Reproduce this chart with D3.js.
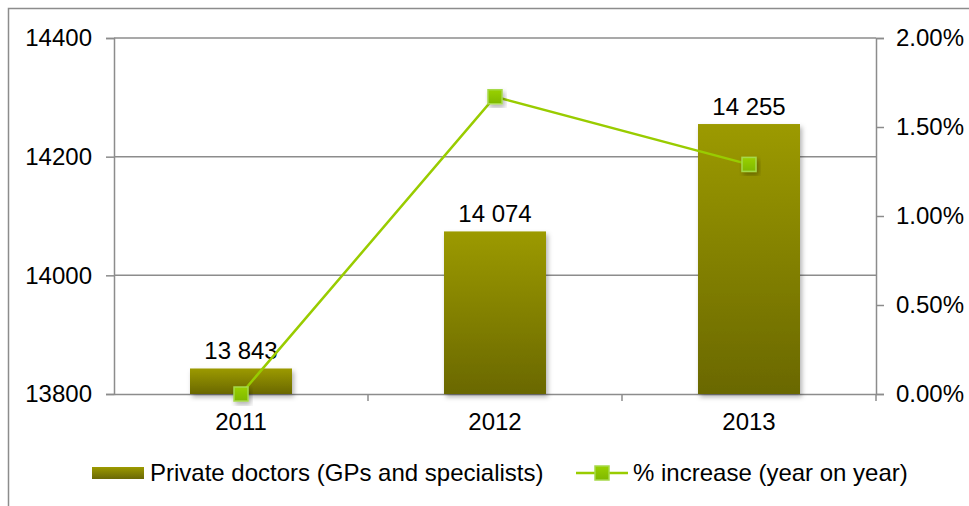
<!DOCTYPE html>
<html>
<head>
<meta charset="utf-8">
<script src="https://cdn.jsdelivr.net/npm/d3@7"></script>
<style>
body { margin: 0; background: #fff; }
text { font-family: "Liberation Sans", Arial, sans-serif; fill: #000; }
</style>
</head>
<body>
<script>
var years = ['2011', '2012', '2013'];
var doctors = [13843, 14074, 14255];
var increase = [0, 1.67, 1.29];
var leftTicks = [13800, 14000, 14200, 14400];
var rightTicks = [0, 0.5, 1, 1.5, 2];

var W = 969, H = 506;
var FS = 24;
var svg = d3.select('body').append('svg')
	.attr('width', W)
	.attr('height', H);

var defs = svg.append('defs');
var grad = defs.append('linearGradient')
	.attr('id', 'barGrad')
	.attr('x1', 0).attr('y1', 0).attr('x2', 0).attr('y2', 1);
grad.append('stop').attr('offset', '0%').attr('stop-color', '#9c9a00');
grad.append('stop').attr('offset', '100%').attr('stop-color', '#6a6806');

var mgrad = defs.append('linearGradient')
	.attr('id', 'markGrad')
	.attr('x1', 0).attr('y1', 0).attr('x2', 0).attr('y2', 1);
mgrad.append('stop').attr('offset', '0%').attr('stop-color', '#99d100');
mgrad.append('stop').attr('offset', '100%').attr('stop-color', '#7fb800');

var shadow = defs.append('filter').attr('id', 'shadow')
	.attr('x', '-20%').attr('y', '-20%').attr('width', '150%').attr('height', '150%');
shadow.append('feDropShadow')
	.attr('dx', 2).attr('dy', 3).attr('stdDeviation', 2.5)
	.attr('flood-color', '#000').attr('flood-opacity', 0.3);

// outer frame
svg.append('rect')
	.attr('x', 8.5).attr('y', 8.5)
	.attr('width', 980).attr('height', 520)
	.attr('fill', 'none')
	.attr('stroke', '#8c8c8c')
	.attr('stroke-width', 1.5);

var pLeft = 114, pRight = 876, pTop = 38, pBottom = 394;

var x = d3.scaleBand().domain(years).range([pLeft, pRight]);
var y = d3.scaleLinear().domain([13800, 14400]).range([pBottom, pTop]);
var y2 = d3.scaleLinear().domain([0, 2]).range([pBottom, pTop]);

// gridlines
svg.append('g').selectAll('line')
	.data(leftTicks.slice(1))
	.join('line')
	.attr('x1', pLeft).attr('x2', pRight)
	.attr('y1', function(d){ return y(d); })
	.attr('y2', function(d){ return y(d); })
	.attr('stroke', '#8c8c8c')
	.attr('stroke-width', 1.5);

// left axis
var gl = svg.append('g')
	.attr('transform', 'translate(' + pLeft + ',0)')
	.call(d3.axisLeft(y).tickValues(leftTicks).tickSize(8).tickPadding(14).tickFormat(d3.format('d')));
gl.select('.domain').attr('stroke', '#8c8c8c').attr('stroke-width', 1.5);
gl.selectAll('.tick line').attr('stroke', '#8c8c8c').attr('stroke-width', 1.5);
gl.selectAll('.tick text').attr('font-size', FS).attr('font-family', '"Liberation Sans", Arial, sans-serif').attr('fill', '#000');

// right axis
var gr = svg.append('g')
	.attr('transform', 'translate(' + pRight + ',0)')
	.call(d3.axisRight(y2).tickValues(rightTicks).tickSize(8).tickPadding(12).tickFormat(function(d){ return d.toFixed(2) + '%'; }));
gr.select('.domain').attr('stroke', '#8c8c8c').attr('stroke-width', 1.5);
gr.selectAll('.tick line').attr('stroke', '#8c8c8c').attr('stroke-width', 1.5);
gr.selectAll('.tick text').attr('font-size', FS).attr('font-family', '"Liberation Sans", Arial, sans-serif').attr('fill', '#000');

// bottom axis
var gb = svg.append('g')
	.attr('transform', 'translate(0,' + pBottom + ')')
	.call(d3.axisBottom(x).tickSize(0).tickPadding(19));
gb.select('.domain').attr('stroke', '#8c8c8c').attr('stroke-width', 1.5);
gb.selectAll('.tick text').attr('font-size', FS).attr('font-family', '"Liberation Sans", Arial, sans-serif').attr('fill', '#000');
gb.selectAll('line.sep')
	.data([pLeft + x.step(), pLeft + 2 * x.step(), pRight])
	.join('line')
	.attr('class', 'sep')
	.attr('x1', function(d){ return d; }).attr('x2', function(d){ return d; })
	.attr('y1', 0).attr('y2', 7)
	.attr('stroke', '#8c8c8c').attr('stroke-width', 1.5);

// bars
var bw = 102;
svg.append('g').selectAll('rect')
	.data(doctors)
	.join('rect')
	.attr('x', function(d, i){ return x(years[i]) + x.bandwidth() / 2 - bw / 2; })
	.attr('y', function(d){ return y(d); })
	.attr('width', bw)
	.attr('height', function(d){ return pBottom - y(d); })
	.attr('fill', 'url(#barGrad)')
	.attr('filter', 'url(#shadow)');

// bar labels
var fmt = function(v){ return d3.format(',')(v).replace(',', ' '); };
svg.append('g').selectAll('text')
	.data(doctors)
	.join('text')
	.attr('x', function(d, i){ return x(years[i]) + x.bandwidth() / 2; })
	.attr('y', function(d){ return y(d) - 9; })
	.attr('text-anchor', 'middle')
	.attr('font-size', FS)
	.text(fmt);

// line
var line = d3.line()
	.x(function(d, i){ return x(years[i]) + x.bandwidth() / 2; })
	.y(function(d){ return y2(d); });
svg.append('path')
	.datum(increase)
	.attr('d', line)
	.attr('fill', 'none')
	.attr('stroke', '#99cc00')
	.attr('stroke-width', 2.5);

svg.append('g').selectAll('rect')
	.data(increase)
	.join('rect')
	.attr('x', function(d, i){ return x(years[i]) + x.bandwidth() / 2 - 7; })
	.attr('y', function(d){ return y2(d) - 7; })
	.attr('width', 14).attr('height', 14)
	.attr('fill', 'url(#markGrad)')
	.attr('stroke', '#a6d94a')
	.attr('stroke-width', 1.5)
	.attr('filter', 'url(#shadow)');

// legend
var lg = svg.append('g');
lg.append('rect')
	.attr('x', 92).attr('y', 467)
	.attr('width', 52).attr('height', 12)
	.attr('fill', 'url(#barGrad)');
lg.append('text')
	.attr('x', 150).attr('y', 481)
	.attr('font-size', FS)
	.text('Private doctors (GPs and specialists)');
lg.append('line')
	.attr('x1', 576).attr('x2', 628)
	.attr('y1', 473).attr('y2', 473)
	.attr('stroke', '#99cc00').attr('stroke-width', 2.5);
lg.append('rect')
	.attr('x', 595).attr('y', 466)
	.attr('width', 14).attr('height', 14)
	.attr('fill', 'url(#markGrad)')
	.attr('stroke', '#a6d94a')
	.attr('stroke-width', 1.5);
lg.append('text')
	.attr('x', 633).attr('y', 481)
	.attr('font-size', FS)
	.text('% increase (year on year)');
</script>
</body>
</html>
